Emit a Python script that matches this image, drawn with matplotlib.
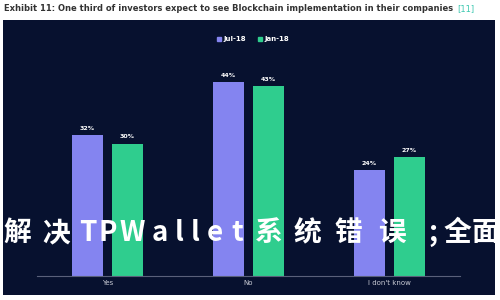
import matplotlib
matplotlib.use("Agg")
import matplotlib.pyplot as plt
import numpy as np
from matplotlib.lines import Line2D

categories = ["Yes", "No", "I don't know"]
series_names = ["Jul-18", "Jan-18"]
jul18 = [32, 44, 24]
jan18 = [30, 43, 27]
title = "Exhibit 11: One third of investors expect to see Blockchain implementation in their companies"
ref = "[11]"
overlay = "解决TPWallet系统错误;全面"

c_jul = "#8484f0"
c_jan = "#2fcd8e"
panel = "#07112f"

fig = plt.figure(figsize=(5, 3), dpi=100)
fig.patch.set_facecolor("white")
bg = fig.add_axes([0.006, 0.017, 0.984, 0.916], zorder=-5)
bg.set_facecolor(panel)
bg.set_xticks([]); bg.set_yticks([])
for s in bg.spines.values():
    s.set_visible(False)

ax = fig.add_axes([0.074, 0.08, 0.846, 0.72], zorder=1)
ax.set_facecolor("none")
x = np.arange(len(categories))
w = 0.22
off = 0.142
b1 = ax.bar(x - off, jul18, w, color=c_jul, zorder=2)
b2 = ax.bar(x + off, jan18, w, color=c_jan, zorder=2)
for bars, vals in ((b1, jul18), (b2, jan18)):
    for r, v in zip(bars, vals):
        ax.text(r.get_x() + r.get_width() / 2, v + 1.0, f"{v}%", ha="center", va="bottom",
                color="white", fontsize=4.5, fontweight="bold")
ax.set_xlim(-0.5, 2.5)
ax.set_ylim(0, 49)
ax.set_yticks([])
ax.set_xticks(x)
ax.set_xticklabels(categories, color="#c8cad4", fontsize=5)
ax.tick_params(axis="x", length=0, pad=3)
for s in ("top", "right", "left"):
    ax.spines[s].set_visible(False)
ax.spines["bottom"].set_color("#59607a")
ax.spines["bottom"].set_linewidth(0.8)

handles = [Line2D([], [], marker="s", linestyle="none", markersize=3.5, color=c)
           for c in (c_jul, c_jan)]
leg = fig.legend(handles, series_names, loc="center", bbox_to_anchor=(0.505, 0.87), ncol=2,
                 frameon=False, handletextpad=0.2, columnspacing=1.6,
                 handlelength=0.8, prop={"weight": "bold", "size": 5})
for t in leg.get_texts():
    t.set_color("white")

t = fig.text(0.008, 0.972, title, ha="left", va="center", fontsize=6.0, fontweight="bold",
             color="#333333")
fig.canvas.draw()
bb = t.get_window_extent()
fig.text(bb.x1 / fig.bbox.width + 0.008, 0.972, ref, ha="left", va="center", fontsize=6.0,
         color="#3cc8b0")

# overlay banner text, letter-spaced (glyph centres in pixels)
centres = [17.5, 56.5, 87.5, 107.5, 132.5, 159.5, 179.5, 195.5, 215, 237.5,
           269, 307.5, 348.5, 392, 433, 457, 485]
for ch, cx in zip(overlay, centres):
    fig.text(cx / 500, 1 - 233 / 300, ch, ha="center", va="center", fontsize=20,
             fontweight="bold", color="white",
             family=["Noto Sans CJK SC", "DejaVu Sans"], zorder=10)

fig.savefig("out.png", dpi=100, facecolor="white")
